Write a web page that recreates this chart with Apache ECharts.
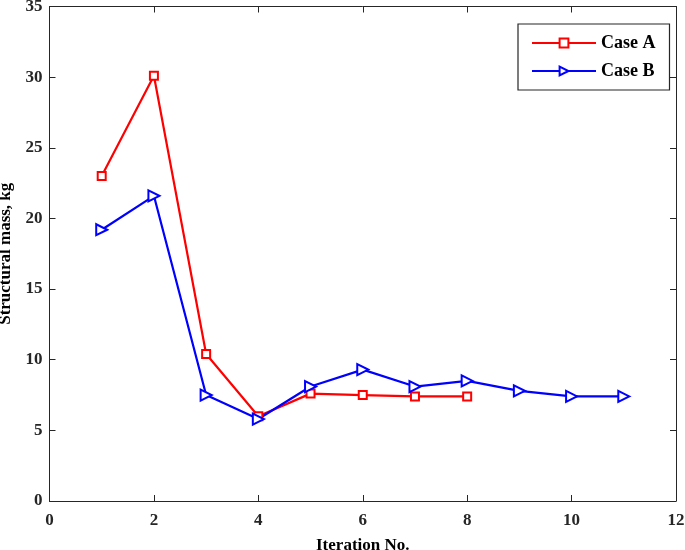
<!DOCTYPE html>
<html>
<head>
<meta charset="utf-8">
<script src="https://cdn.jsdelivr.net/npm/echarts@6/dist/echarts.min.js"></script>
<style>html,body{margin:0;padding:0;background:#fff;}#c{width:685px;height:550px;}</style>
</head>
<body>
<div id="c"></div>
<script>
var xA = [1, 2, 3, 4, 5, 6, 7, 8];
var caseA = [23.0, 30.1, 10.4, 6.0, 7.6, 7.5, 7.4, 7.4];
var xB = [1, 2, 3, 4, 5, 6, 7, 8, 9, 10, 11];
var caseB = [19.2, 21.6, 7.5, 5.8, 8.1, 9.3, 8.1, 8.5, 7.8, 7.4, 7.4];
var seriesNames = ['Case A', 'Case B'];

var font = 'Liberation Serif, Times New Roman, serif';
function pairs(xs, ys) { return xs.map(function (x, i) { return [x, ys[i]]; }); }

var chart = echarts.init(document.getElementById('c'));
var axisLine = { show: true, onZero: false, lineStyle: { color: '#262626', width: 1 } };
var tick = { show: true, inside: true, length: 6, lineStyle: { color: '#262626' } };
var lbl = { color: '#262626', fontFamily: font, fontWeight: 'bold', fontSize: 17 };
chart.setOption({
  animation: false,
  grid: { left: 49.5, right: 9, top: 6.5, bottom: 49, containLabel: false, outerBoundsMode: 'none' },
  legend: {
    orient: 'vertical', left: 518, top: 24, width: 148,
    backgroundColor: '#fff', borderColor: '#262626', borderWidth: 1.2,
    padding: [10, 14, 10, 13], itemGap: 10, itemWidth: 64, itemHeight: 11,
    textStyle: { fontFamily: font, fontWeight: 'bold', fontSize: 18, color: '#000', width: 66 },
    data: seriesNames
  },
  xAxis: [{
    type: 'value', min: 0, max: 12, interval: 2,
    name: 'Iteration No.', nameLocation: 'middle', nameGap: 36,
    nameTextStyle: { fontFamily: font, fontWeight: 'bold', fontSize: 17, color: '#000' },
    axisLine: axisLine, axisTick: tick, splitLine: { show: false },
    axisLabel: Object.assign({ margin: 11 }, lbl)
  }, {
    type: 'value', min: 0, max: 12, interval: 2, position: 'top',
    axisLine: axisLine, axisTick: tick, splitLine: { show: false }, axisLabel: { show: false }
  }],
  yAxis: [{
    type: 'value', min: 0, max: 35, interval: 5,
    name: 'Structural mass, kg', nameLocation: 'middle', nameGap: 32,
    nameTextStyle: { fontFamily: font, fontWeight: 'bold', fontSize: 17, color: '#000' },
    axisLine: axisLine, axisTick: tick, splitLine: { show: false },
    axisLabel: Object.assign({ margin: 7 }, lbl)
  }, {
    type: 'value', min: 0, max: 35, interval: 5, position: 'right',
    axisLine: axisLine, axisTick: tick, splitLine: { show: false }, axisLabel: { show: false }
  }],
  series: [{
    name: seriesNames[0], type: 'line', data: pairs(xA, caseA),
    symbol: 'rect', symbolSize: 8,
    lineStyle: { color: '#ff0000', width: 2.2 },
    itemStyle: { color: '#fff', borderColor: '#ff0000', borderWidth: 2 }
  }, {
    name: seriesNames[1], type: 'line', data: pairs(xB, caseB),
    symbol: 'triangle', symbolSize: 11, symbolRotate: -90,
    lineStyle: { color: '#0000ff', width: 2.2 },
    itemStyle: { color: '#fff', borderColor: '#0000ff', borderWidth: 2 }
  }]
});
</script>
</body>
</html>
